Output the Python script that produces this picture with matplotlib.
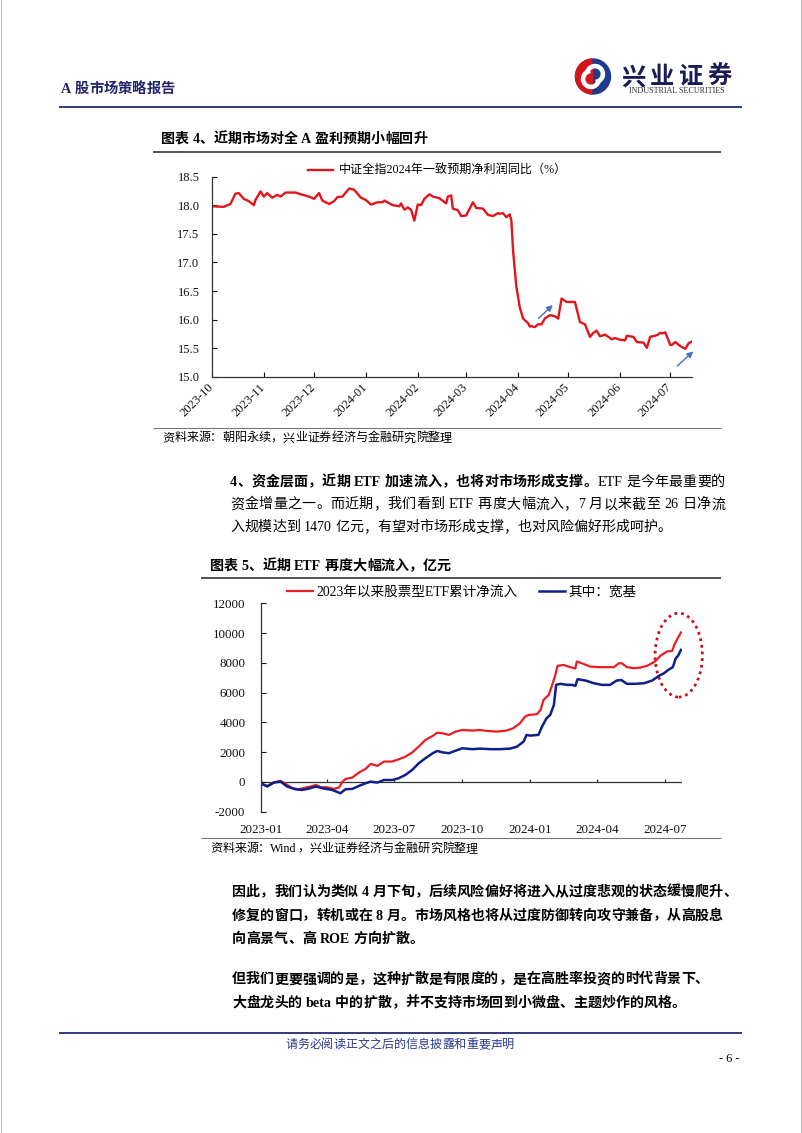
import re
import matplotlib
matplotlib.use('Agg')
import matplotlib.pyplot as plt
import matplotlib.dates as mdates
from matplotlib.patches import Ellipse, Wedge, Circle
import numpy as np
import pandas as pd

# ---------------- data ----------------
# chart 4: CSI All Share 2024 consensus net profit growth (%)
earn_dates = ['2023-10-01', '2023-10-08', '2023-10-12', '2023-10-15', '2023-10-17', '2023-10-20', '2023-10-23', '2023-10-26', '2023-10-27', '2023-10-30',
              '2023-11-01', '2023-11-03', '2023-11-06', '2023-11-09', '2023-11-11', '2023-11-14', '2023-11-20', '2023-11-23', '2023-11-28',
              '2023-12-01', '2023-12-04', '2023-12-06', '2023-12-10', '2023-12-13', '2023-12-15', '2023-12-18', '2023-12-22', '2023-12-25', '2023-12-29',
              '2024-01-01', '2024-01-04', '2024-01-08', '2024-01-11', '2024-01-12', '2024-01-17', '2024-01-21', '2024-01-22', '2024-01-24', '2024-01-26', '2024-01-28', '2024-01-30',
              '2024-02-01', '2024-02-03', '2024-02-05', '2024-02-08', '2024-02-10', '2024-02-14', '2024-02-18', '2024-02-19', '2024-02-21', '2024-02-22', '2024-02-25', '2024-02-27',
              '2024-03-01', '2024-03-02', '2024-03-05', '2024-03-07', '2024-03-11', '2024-03-14', '2024-03-17', '2024-03-20', '2024-03-21', '2024-03-23', '2024-03-25', '2024-03-27', '2024-03-28', '2024-03-29', '2024-03-31',
              '2024-04-02', '2024-04-04', '2024-04-07', '2024-04-08', '2024-04-09', '2024-04-11', '2024-04-13', '2024-04-15', '2024-04-17', '2024-04-20', '2024-04-23', '2024-04-25', '2024-04-27', '2024-04-30',
              '2024-05-05', '2024-05-08', '2024-05-11', '2024-05-14', '2024-05-16', '2024-05-18', '2024-05-20', '2024-05-23', '2024-05-27', '2024-05-29',
              '2024-06-01', '2024-06-04', '2024-06-05', '2024-06-09', '2024-06-11', '2024-06-15', '2024-06-17', '2024-06-19', '2024-06-23', '2024-06-25', '2024-06-26', '2024-06-28',
              '2024-07-01', '2024-07-02', '2024-07-04', '2024-07-07', '2024-07-10', '2024-07-12', '2024-07-14']
earn_yoy = [17.98, 17.97, 18.02, 18.20, 18.21, 18.11, 18.07, 18.00, 18.09, 18.24,
            18.15, 18.21, 18.13, 18.18, 18.15, 18.22, 18.22, 18.19, 18.15,
            18.11, 18.21, 18.08, 18.02, 18.07, 18.14, 18.15, 18.29, 18.27, 18.13,
            18.09, 18.01, 18.05, 18.05, 18.08, 18.00, 17.98, 18.03, 17.92, 17.96, 17.92, 17.73,
            18.01, 18.00, 18.11, 18.19, 18.15, 18.12, 18.03, 18.15, 18.17, 17.94, 17.91, 17.81,
            17.82, 17.88, 18.05, 17.95, 17.94, 17.83, 17.81, 17.86, 17.85, 17.86, 17.79, 17.84, 17.73, 17.21, 16.57,
            16.22, 16.02, 15.94, 15.88, 15.89, 15.87, 15.92, 15.92, 16.02, 16.08, 16.06, 16.02, 16.37, 16.31,
            16.31, 15.96, 15.92, 15.70, 15.77, 15.81, 15.71, 15.74, 15.66, 15.68,
            15.65, 15.64, 15.72, 15.70, 15.61, 15.60, 15.51, 15.70, 15.73, 15.77, 15.76, 15.78,
            15.56, 15.56, 15.61, 15.54, 15.49, 15.59, 15.62]
earn_label = '中证全指2024年一致预期净利润同比（%）'
# blue arrows: (start date, start value, end date, end value)
earn_arrows = [('2024-04-12', 15.99, '2024-04-23', 16.29),
               ('2024-07-04', 15.16, '2024-07-16', 15.48)]

# chart 5: cumulative net inflow of equity ETFs since 2023 (100m CNY), x = days since 2023-01-01
etf_total_day = [0, 9, 18, 27, 34, 43, 52, 61, 68, 75, 81, 90, 99, 106, 111, 115, 124, 133, 142, 149,
                 158, 167, 178, 187, 196, 205, 214, 223, 233, 239, 246, 255, 264, 273, 287, 296, 306, 320, 333, 342,
                 351, 358, 363, 374, 379, 383, 390, 394, 399, 402, 410, 419, 426, 428, 437, 446, 458, 469, 478, 485,
                 489, 496, 505, 514, 523, 534, 541, 550, 557, 560, 564, 569]
etf_total = [-90, -270, -20, 70, -130, -425, -490, -380, -310, -200, -360, -360, -470, -380, 20, 200, 290, 630, 870, 1210,
             1075, 1370, 1370, 1520, 1700, 1970, 2370, 2820, 3090, 3310, 3270, 3160, 3380, 3490, 3450, 3490, 3430, 3380, 3450, 3610,
             3940, 4390, 4500, 4550, 4840, 5510, 5850, 6410, 7190, 7800, 7860, 7710, 7620, 8090, 7930, 7750, 7710, 7710, 7710, 7970,
             7970, 7710, 7640, 7680, 7800, 8090, 8470, 8760, 8800, 9210, 9590, 10040]
etf_broad_day = [0, 9, 18, 27, 36, 47, 56, 65, 75, 84, 97, 108, 115, 124, 133, 142, 149, 158, 167, 178,
                 187, 196, 205, 214, 223, 233, 239, 246, 255, 264, 273, 287, 297, 311, 324, 338, 347, 356, 360, 365,
                 376, 381, 387, 392, 397, 400, 406, 415, 422, 426, 429, 440, 451, 462, 473, 482, 488, 496, 507, 519,
                 530, 539, 546, 552, 558, 562, 565, 569]
etf_broad = [-90, -310, -45, 20, -310, -490, -540, -450, -310, -425, -540, -760, -490, -470, -270, -90, 20, -45, 130, 130,
             250, 470, 800, 1250, 1590, 1930, 2080, 1990, 1930, 2100, 2260, 2200, 2240, 2200, 2200, 2240, 2370, 2710, 3160, 3110,
             3160, 3720, 4280, 4500, 5170, 6520, 6590, 6520, 6520, 6450, 6900, 6810, 6630, 6520, 6520, 6810, 6850, 6590, 6590, 6630,
             6810, 7120, 7300, 7530, 7710, 8310, 8470, 8870]
etf_labels = ['2023年以来股票型ETF累计净流入', '其中：宽基']
# dotted highlight: centre day, centre value, width (days), height
etf_ring = (566, 8520, 64, 5640)

# page text
header = 'A 股市场策略报告'
title4 = '图表 4、近期市场对全 A 盈利预期小幅回升'
source4 = '资料来源：朝阳永续，兴业证券经济与金融研究院整理'
title5 = '图表 5、近期 ETF 再度大幅流入，亿元'
source5 = '资料来源：Wind，兴业证券经济与金融研究院整理'
para1 = [[('4、资金层面，近期 ETF 加速流入，也将对市场形成支撑。', True), ('ETF 是今年最重要的', False)],
         [('资金增量之一。而近期，我们看到 ETF 再度大幅流入，7 月以来截至 26 日净流', False)],
         [('入规模达到 1470 亿元，有望对市场形成支撑，也对风险偏好形成呵护。', False)]]
para2 = ['因此，我们认为类似 4 月下旬，后续风险偏好将进入从过度悲观的状态缓慢爬升、',
         '修复的窗口，转机或在 8 月。市场风格也将从过度防御转向攻守兼备，从高股息',
         '向高景气、高 ROE 方向扩散。']
para3 = ['但我们更要强调的是，这种扩散是有限度的，是在高胜率投资的时代背景下、',
         '大盘龙头的 beta 中的扩散，并不支持市场回到小微盘、主题炒作的风格。']
footer = '请务必阅读正文之后的信息披露和重要声明'
page_no = '- 6 -'

# ---------------- page ----------------
W, H = 802, 1133
FONT = ['Liberation Serif', 'Noto Sans CJK SC']
plt.rcParams['font.family'] = FONT
plt.rcParams['axes.unicode_minus'] = False

NAVY = '#2E3A7C'
RED = '#E3141C'

fig = plt.figure(figsize=(W / 100, H / 100), dpi=100)
page = fig.add_axes([0, 0, 1, 1])
page.set_xlim(0, W)
page.set_ylim(H, 0)
page.axis('off')
renderer = fig.canvas.get_renderer()


def axes_box(x0, y0, x1, y1):
    return [x0 / W, 1 - y1 / H, (x1 - x0) / W, (y1 - y0) / H]


def hline(y, x0, x1, color, lw):
    page.plot([x0, x1], [y, y], color=color, lw=lw, solid_capstyle='butt')


def write(x, y, runs, size=10.1, right=None, color='black'):
    # y is the visual middle of the line; each CJK char takes one em
    em = size * 100 / 72
    base = y + 0.36 * em
    toks = []
    for s, bold in runs:
        for tok in re.findall(r'[A-Za-z0-9.%]+| |.', s):
            toks.append((tok, bold))
    widths = []
    for tok, bold in toks:
        if tok == ' ':
            widths.append(0.25 * em)
        elif ord(tok[0]) > 0x2E80:
            widths.append(em)
        else:
            t = page.text(0, 0, tok, fontsize=size, fontweight='bold' if bold else 'normal')
            widths.append(t.get_window_extent(renderer).width)
            t.remove()
    gap = 0
    if right is not None and len(toks) > 1:
        gap = (right - x - sum(widths)) / (len(toks) - 1)
    for (tok, bold), w in zip(toks, widths):
        if tok != ' ':
            page.text(x, base, tok, fontsize=size, fontweight='bold' if bold else 'normal',
                      color=color, va='baseline', ha='left')
        x += w + gap


# page edges
page.plot([0.5, 0.5], [0, H], color='#b5b5b5', lw=0.7)
page.plot([W - 0.8, W - 0.8], [0, H], color='#b5b5b5', lw=0.7)

# header
write(61, 87.5, [(header, True)], size=10.3, color='#23266A')
hline(106.5, 59, 742, NAVY, 1.4)
page.add_patch(Circle((593, 76.5), 17.5, color='#1F3B8C'))
page.add_patch(Wedge((593, 76.5), 17.5, 95, 265, color='#D7141A'))
page.add_patch(Wedge((595, 74), 9.5, 200, 80, width=3.2, color='white'))
page.add_patch(Wedge((591, 79), 9.5, 20, 260, width=3.2, color='white'))
for i, ch in enumerate('兴业证券'):
    page.text(633 + 29 * i, 84, ch, fontsize=17.5, fontweight='bold', family='Noto Sans CJK SC',
              color='#1B1B55', ha='center', va='baseline')
page.text(676.5, 91, 'INDUSTRIAL SECURITIES', fontsize=5.9, family='Liberation Serif',
          color='#333333', ha='center', va='center')

# chart 4 frame
write(161, 138, [(title4, True)])
hline(152.3, 153, 721, '#444444', 1.3)
hline(427.5, 153, 721, '#777777', 0.8)
write(162, 437, [(source4, False)], size=8.7)

# chart 4
ax1 = fig.add_axes(axes_box(212, 176.5, 692, 377))
d1 = pd.to_datetime(earn_dates)
ax1.plot(d1, earn_yoy, color=RED, lw=1.7, label=earn_label)
ax1.set_ylim(15, 18.5)
ax1.set_yticks(np.arange(15, 18.51, 0.5))
ax1.yaxis.set_major_formatter('{x:.1f}')
ax1.set_xlim(d1[0], d1[-1])
ax1.xaxis.set_major_locator(mdates.MonthLocator())
ax1.xaxis.set_major_formatter(mdates.DateFormatter('%Y-%m'))
ax1.tick_params(direction='in', length=3.5, width=0.8, labelsize=9, colors='#111111')
ax1.tick_params(axis='y', pad=9)
ax1.tick_params(axis='x', pad=6)
plt.setp(ax1.get_xticklabels(), rotation=45, ha='right', va='center', rotation_mode='anchor')
for s in ['top', 'right']:
    ax1.spines[s].set_visible(False)
for s in ['left', 'bottom']:
    ax1.spines[s].set_color('#333333')
    ax1.spines[s].set_linewidth(0.9)
for x0, y0, x1, y1 in earn_arrows:
    ax1.annotate('', xy=(pd.Timestamp(x1), y1), xytext=(pd.Timestamp(x0), y0),
                 arrowprops=dict(arrowstyle='-|>', color='#4472C4', lw=1.0, mutation_scale=9),
                 annotation_clip=False)
ax1.legend(loc='center', bbox_to_anchor=(437.5 / W, 1 - 171 / H), bbox_transform=fig.transFigure,
           frameon=False, handlelength=2.1, handletextpad=0.5, prop=dict(family=FONT, size=8.7))

# text block between charts
write(230, 480.7, para1[0], right=725)
write(230, 503.3, para1[1], right=725)
write(230, 526, para1[2])

# chart 5 frame
write(210, 565, [(title5, True)])
hline(577.5, 201, 721, '#444444', 1.3)
hline(838.3, 201, 721, '#777777', 0.8)
write(210, 847.5, [(source5, False)], size=8.7)

# chart 5
ax2 = fig.add_axes(axes_box(260.6, 603.3, 681.7, 811.7))
start = pd.Timestamp('2023-01-01')
t_total = start + pd.to_timedelta(etf_total_day, unit='D')
t_broad = start + pd.to_timedelta(etf_broad_day, unit='D')
ax2.plot(t_total, etf_total, color='#EA1D25', lw=1.6, label=etf_labels[0])
ax2.plot(t_broad, etf_broad, color='#0E1F8A', lw=1.8, label=etf_labels[1])
ax2.set_ylim(-2000, 12000)
ax2.set_yticks(np.arange(-2000, 12001, 2000))
ax2.yaxis.set_major_formatter('{x:.0f}')
ax2.set_xlim(start, t_total[-1] + pd.Timedelta(days=1))
ax2.xaxis.set_major_locator(mdates.MonthLocator(bymonth=[1, 4, 7, 10]))
ax2.xaxis.set_major_formatter(mdates.DateFormatter('%Y-%m'))
for s in ['top', 'right', 'bottom']:
    ax2.spines[s].set_visible(False)
ax2.spines['left'].set_color('#333333')
ax2.spines['left'].set_linewidth(0.9)
ax2.axhline(0, color='#333333', lw=0.9, zorder=1)
lo, hi = ax2.get_xlim()
ticks = [t for t in ax2.get_xticks() if lo <= t <= hi]
ax2.vlines(ticks, 0, 200, color='#333333', lw=0.9)
ax2.tick_params(axis='x', length=0, pad=9, labelsize=9.4, colors='#111111')
ax2.tick_params(axis='y', direction='in', length=3.5, width=0.8, pad=11, labelsize=9.4, colors='#111111')
cx, cy, ew, eh = etf_ring
ax2.add_patch(Ellipse((mdates.date2num(start + pd.Timedelta(days=cx)), cy), ew, eh, fill=False,
                      ls=(0, (1, 1.4)), lw=2.0, color='#C0141E', clip_on=False))
ax2.legend(loc='center', ncol=2, bbox_to_anchor=(461.5 / W, 1 - 592 / H), bbox_transform=fig.transFigure,
           frameon=False, handlelength=1.9, handletextpad=0.25, columnspacing=1.6,
           prop=dict(family=FONT, size=9.8))

# text after chart 5
for i, line in enumerate(para2):
    write(232, 891 + 23.6 * i, [(line, True)])
for i, line in enumerate(para3):
    write(232, 978.3 + 23.6 * i, [(line, True)])

# footer
hline(1032.5, 59, 742, NAVY, 1.4)
write(285, 1043.5, [(footer, False)], size=8.7, color='#2B3A8C')
page.text(729.5, 1059.5, page_no, fontsize=8.8, family='Liberation Serif', ha='center', va='center')

fig.savefig('out.png', dpi=100, facecolor='white')
